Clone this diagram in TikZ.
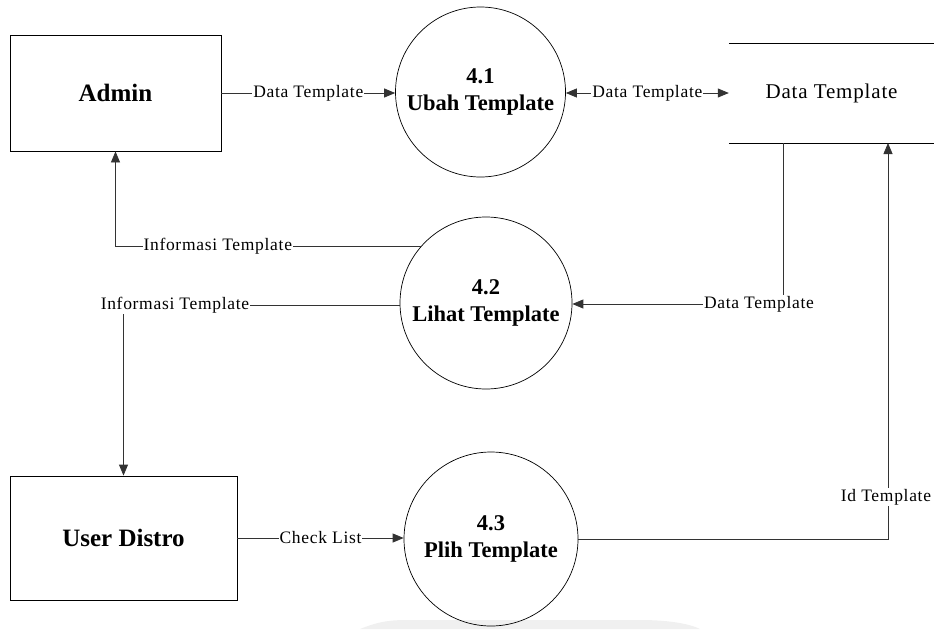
\documentclass[tikz,border=0pt]{standalone}
\usepackage{fontspec}
\setmainfont{Liberation Serif}
\usetikzlibrary{arrows.meta}
\begin{document}
\begin{tikzpicture}[x=1pt,y=-1pt,
  entity/.style={draw,line width=0.8pt,rectangle,font=\fontsize{25}{28}\selectfont\bfseries},
  proc/.style={draw,line width=0.7pt,circle,inner sep=0pt,align=center,font=\fontsize{22.5}{27}\selectfont\bfseries},
  flow/.style={line width=0.8pt,draw=black!80},
  arr/.style={flow,-{Triangle[length=11pt,width=9pt]}},
  biarr/.style={flow,{Triangle[length=11pt,width=9pt]}-{Triangle[length=11pt,width=9pt]}},
  lbl/.style={fill=white,inner sep=1pt,font=\fontsize{17.5}{20}\selectfont\addfontfeatures{LetterSpace=4}}
]
\useasboundingbox (0,0) rectangle (934,629);
% faint watermark edge
\fill[black!6] (360,629) .. controls (380,621) and (390,620) .. (410,620) -- (640,620) .. controls (670,620) and (690,624) .. (700,629) -- cycle;

% entities
\node[entity,minimum width=211pt,minimum height=116pt] (admin) at (115.5,93) {Admin};
\node[entity,minimum width=227pt,minimum height=124pt] (user) at (123.5,538) {User Distro};

% processes
\node[proc,minimum size=170pt] (p41) at (480.5,92) {4.1\\Ubah Template};
\node[proc,minimum size=172pt] (p42) at (486,303) {4.2\\Lihat Template};
\node[proc,minimum size=174pt] (p43) at (491,539) {4.3\\Plih Template};

% data store
\node[minimum width=205pt,minimum height=99pt,inner sep=0pt,font=\fontsize{21}{24}\selectfont\addfontfeatures{LetterSpace=4}] (store) at (831.5,93.5) {Data Template};
\draw[line width=0.8pt] (store.north west) -- (store.north east);
\draw[line width=0.8pt] (store.south west) -- (store.south east);

% admin -> 4.1
\draw[arr] (admin.east |- 0,93) -- node[lbl,pos=0.5]{Data Template} (p41.west |- 0,93);
% 4.1 <-> store
\draw[biarr] (p41.east |- 0,93) -- node[lbl,pos=0.5]{Data Template} (store.west |- 0,93);

% 4.2 -> admin
\coordinate (c1) at (admin.south |- p42.139.4);
\draw[arr] (p42.139.4) -- node[lbl,pos=0.665]{Informasi Template} (c1) -- (admin.south);

% 4.2 -> user distro
\coordinate (c2) at (user.north |- 0,305);
\draw[arr] (p42.west |- 0,305) -- (c2) -- (user.north);
\node[lbl] (l2) at (175,305) {Informasi Template};

% store -> 4.2
\coordinate (s1) at (783,143);
\coordinate (c3) at (783,304);
\draw[arr] (s1) -- (c3) -- (p42.east |- 0,304);
\node[lbl] (l3) at (759,304) {Data Template};

% 4.3 -> store
\coordinate (c4) at (888,539);
\coordinate (s2) at (888,143);
\draw[arr] (p43.east) -- (c4) -- (s2);
\node[lbl] (l4) at (886,497) {Id Template};

% user -> 4.3
\draw[arr] (user.east |- 0,538) -- node[lbl,pos=0.5]{Check List} (p43.west |- 0,538);
\end{tikzpicture}
\end{document}
